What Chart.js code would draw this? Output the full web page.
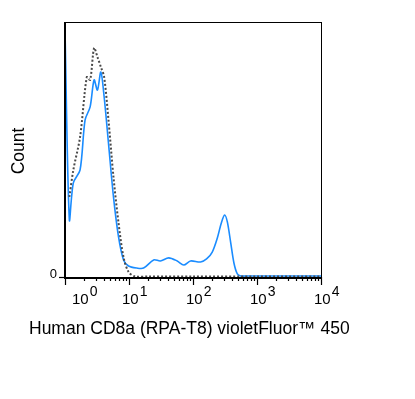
<!DOCTYPE html>
<html>
<head>
<meta charset="utf-8">
<script src="https://cdn.jsdelivr.net/npm/chart.js@4.4.0/dist/chart.umd.min.js"></script>
<style>
  html, body { margin: 0; padding: 0; background: #fff; }
  #wrap { width: 415px; height: 399px; }
</style>
</head>
<body>
<div id="wrap"><canvas id="histChart" width="415" height="399"></canvas></div>
<script>
// ---- Data ----
const stainedX = [1, 1.17, 1.35, 1.72, 2.06, 2.47, 2.85, 3.21, 3.63, 4.09, 4.78, 5.72, 6.86, 8.21, 9.84,
  13.3, 16.9, 24.3, 30.9, 41.7, 56.5, 71.7, 91.4, 131, 163, 200, 240, 277, 312, 344, 387, 436, 493, 556,
  700, 1000, 3000, 10000];
const stainedY = [96.9, 22.4, 36.9, 42.0, 61.6, 66.7, 77.3, 73.3, 80.4, 70.6, 52.5, 31.4, 15.7, 6.7, 4.3,
  3.5, 3.5, 6.7, 6.3, 7.5, 6.3, 4.7, 6.3, 5.9, 7.1, 9.8, 15.3, 21.2, 24.3, 21.6, 13.7, 5.5, 1.2, 0.4,
  0.4, 0.4, 0.4, 0.4];

const controlX = [1.17, 1.35, 1.72, 2.19, 2.47, 2.85, 3.21, 3.63, 4.09, 4.78, 5.72, 6.86, 8.21, 9.84,
  12.5, 20, 100, 1000, 10000];
const controlY = [31.4, 42.0, 54.9, 78.4, 77.3, 89.8, 86.3, 82.4, 78.4, 61.6, 39.2, 21.2, 7.8, 2.0,
  0.2, 0.2, 0.2, 0.2, 0.2];

const decadeTicks = [1, 10, 100, 1000, 10000];
const decadeExponents = ['0', '1', '2', '3', '4'];
const xTitle = 'Human CD8a (RPA-T8) violetFluor\u2122 450';
const yTitle = 'Count';

const FONT = '"Liberation Sans", Arial, sans-serif';

function toPoints(xs, ys) {
  return xs.map((x, i) => ({ x: x, y: ys[i] }));
}

// draws the box, tick marks, tick labels and axis titles
const axesPlugin = {
  id: 'facsAxes',
  afterDatasetsDraw(chart) {
    const { ctx, chartArea: area, scales } = chart;
    const xs = scales.x;
    ctx.save();
    ctx.strokeStyle = '#000';
    ctx.lineWidth = 1;
    ctx.strokeRect(area.left + 0.5, area.top + 0.5, area.right - area.left, area.bottom - area.top);
    // heavier left and bottom axis
    ctx.lineWidth = 2;
    ctx.beginPath();
    ctx.moveTo(area.left, area.top);
    ctx.lineTo(area.left, area.bottom + 1);
    ctx.lineTo(area.right + 1, area.bottom + 1);
    ctx.stroke();

    // x ticks
    ctx.lineWidth = 1.2;
    for (let d = 0; d < decadeTicks.length; d++) {
      const base = decadeTicks[d];
      const px = Math.round(xs.getPixelForValue(base)) + 0.5;
      ctx.beginPath();
      ctx.moveTo(px, area.bottom);
      ctx.lineTo(px, area.bottom + 8);
      ctx.stroke();
      if (d < decadeTicks.length - 1) {
        for (let m = 2; m < 10; m++) {
          const mx = Math.round(xs.getPixelForValue(base * m)) + 0.5;
          ctx.beginPath();
          ctx.moveTo(mx, area.bottom);
          ctx.lineTo(mx, area.bottom + 4);
          ctx.stroke();
        }
      }
    }

    // y tick at zero
    ctx.beginPath();
    ctx.moveTo(area.left - 6, area.bottom + 0.5);
    ctx.lineTo(area.left, area.bottom + 0.5);
    ctx.stroke();

    // tick labels
    ctx.fillStyle = '#000';
    ctx.textBaseline = 'alphabetic';
    ctx.textAlign = 'left';
    decadeTicks.forEach((v, i) => {
      const px = xs.getPixelForValue(v);
      const start = i === 0 ? px + 7 : px - 7;
      ctx.font = '15px ' + FONT;
      ctx.fillText('10', start, 304);
      const w = ctx.measureText('10').width;
      ctx.font = '14px ' + FONT;
      ctx.fillText(decadeExponents[i], start + w + 1, 296);
    });

    ctx.font = '13px ' + FONT;
    ctx.textAlign = 'right';
    ctx.textBaseline = 'middle';
    ctx.fillText('0', area.left - 8, 274);

    // titles
    ctx.font = '17.5px ' + FONT;
    ctx.textAlign = 'left';
    ctx.textBaseline = 'alphabetic';
    ctx.fillText(xTitle, 29, 334);

    ctx.translate(24, 151);
    ctx.rotate(-Math.PI / 2);
    ctx.textAlign = 'center';
    ctx.fillText(yTitle, 0, 0);
    ctx.restore();
  }
};

new Chart(document.getElementById('histChart').getContext('2d'), {
  type: 'line',
  data: {
    datasets: [
      {
        label: 'Control',
        data: toPoints(controlX, controlY),
        borderColor: '#4a4a4a',
        borderWidth: 2,
        borderDash: [2, 2],
        pointRadius: 0,
        tension: 0.3,
        fill: false
      },
      {
        label: 'CD8a',
        data: toPoints(stainedX, stainedY),
        borderColor: '#1a8cff',
        borderWidth: 1.6,
        pointRadius: 0,
        tension: 0.3,
        fill: false
      }
    ]
  },
  options: {
    responsive: false,
    animation: false,
    layout: { padding: { left: 65, top: 22, right: 94, bottom: 122 } },
    plugins: { legend: { display: false }, tooltip: { enabled: false } },
    scales: {
      x: { type: 'logarithmic', min: 1, max: 10000, display: false },
      y: { type: 'linear', min: 0, max: 100, display: false }
    }
  },
  plugins: [axesPlugin]
});
</script>
</body>
</html>
